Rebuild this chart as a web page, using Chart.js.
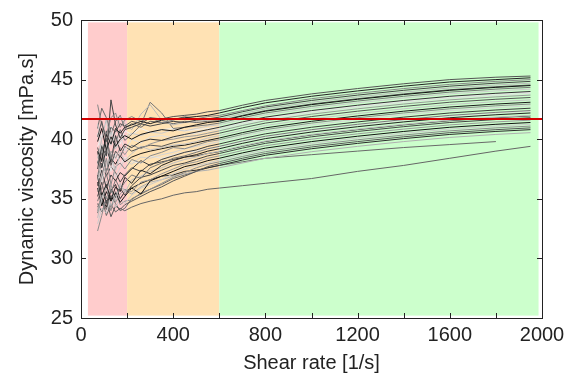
<!DOCTYPE html>
<html>
<head>
<meta charset="utf-8">
<script src="https://cdn.jsdelivr.net/npm/chart.js@4"></script>
<style>
  html, body { margin: 0; padding: 0; background: #fff; }
  #wrap { width: 576px; height: 378px; }
</style>
</head>
<body>
<div id="wrap"><canvas id="grafico" width="576" height="378"></canvas></div>
<script>
// shear rate grid shared by all runs [1/s]
const shearRate = [72, 90, 110, 130, 150, 170, 190, 220, 260, 300, 350, 400, 450, 500, 550, 600, 700, 800, 1000, 1200, 1400, 1600, 1800, 1950];

// measured viscosity curves [mPa.s]
const s1  = [40.2, 41.5, 39.8, 41.0, 40.6, 41.3, 41.1, 41.5, 41.3, 41.8, 41.7, 41.9, 42.0, 42.1, 42.3, 42.4, 42.85, 43.25, 43.8, 44.25, 44.65, 45.0, 45.2, 45.3];
const s2  = [39.0, 38.2, 40.4, 39.6, 40.9, 40.5, 41.0, 41.2, 41.5, 41.3, 41.6, 41.7, 41.8, 41.9, 42.0, 42.2, 42.65, 43.05, 43.6, 44.05, 44.45, 44.8, 45.0, 45.15];
const s3  = [42.9, 41.2, 40.3, 41.8, 42.2, 41.0, 41.6, 41.9, 41.5, 41.8, 41.4, 41.6, 41.9, 41.7, 41.9, 42.0, 42.4, 42.8, 43.4, 43.85, 44.25, 44.6, 44.85, 45.0];
const s4  = [37.5, 39.4, 38.6, 43.3, 41.2, 40.1, 40.8, 41.0, 41.3, 41.1, 41.3, 41.5, 41.4, 41.6, 41.7, 41.85, 42.3, 42.7, 43.25, 43.7, 44.1, 44.45, 44.7, 44.85];
const s5  = [38.4, 40.0, 41.7, 39.5, 40.7, 41.9, 41.3, 40.8, 42.1, 42.9, 41.6, 41.2, 41.4, 41.5, 41.6, 41.7, 42.15, 42.55, 43.1, 43.55, 43.95, 44.3, 44.55, 44.7];
const s6  = [39.8, 40.9, 39.1, 40.2, 39.4, 40.0, 40.3, 40.0, 40.4, 40.6, 40.8, 40.7, 41.0, 41.2, 41.4, 41.5, 41.95, 42.35, 42.9, 43.35, 43.75, 44.1, 44.35, 44.5];
const s7  = [36.8, 38.9, 40.1, 38.3, 39.7, 40.8, 39.9, 40.4, 41.2, 43.1, 42.2, 40.9, 41.0, 41.1, 41.2, 41.35, 41.8, 42.2, 42.75, 43.2, 43.6, 43.95, 44.2, 44.35];
const s8  = [41.3, 39.7, 38.5, 40.6, 39.2, 39.8, 40.2, 40.5, 40.3, 40.6, 40.5, 40.8, 40.7, 40.9, 41.1, 41.2, 41.65, 42.05, 42.6, 43.05, 43.45, 43.8, 44.05, 44.2];
const s9  = [38.9, 37.6, 39.2, 38.1, 40.3, 39.0, 39.6, 39.3, 39.8, 40.0, 39.9, 40.2, 40.4, 40.6, 40.8, 41.0, 41.45, 41.85, 42.4, 42.85, 43.25, 43.6, 43.85, 44.0];
const s10 = [40.5, 38.8, 39.9, 41.1, 39.3, 40.4, 39.0, 40.0, 39.7, 40.2, 40.3, 40.1, 40.4, 40.5, 40.7, 40.85, 41.3, 41.7, 42.25, 42.7, 43.1, 43.45, 43.7, 43.85];
const s11 = [37.9, 39.5, 37.2, 39.0, 38.4, 39.3, 38.7, 39.5, 39.2, 39.6, 39.9, 40.0, 40.2, 40.3, 40.5, 40.7, 41.15, 41.55, 42.1, 42.55, 42.95, 43.3, 43.55, 43.7];
const s12 = [39.3, 38.1, 40.7, 37.8, 39.0, 38.5, 39.4, 39.0, 39.3, 39.5, 39.4, 39.7, 39.9, 40.1, 40.3, 40.5, 40.95, 41.35, 41.9, 42.35, 42.75, 43.1, 43.35, 43.5];
const s13 = [36.5, 37.8, 39.0, 38.6, 37.4, 38.9, 38.2, 38.8, 39.4, 39.1, 39.3, 39.5, 39.6, 39.8, 40.1, 40.3, 40.75, 41.15, 41.7, 42.15, 42.55, 42.9, 43.15, 43.3];
const s14 = [38.0, 39.1, 37.3, 38.4, 37.9, 38.6, 38.1, 38.5, 38.8, 39.0, 39.2, 39.4, 39.5, 39.7, 39.9, 40.1, 40.55, 40.95, 41.5, 41.95, 42.35, 42.7, 42.95, 43.1];
const s15 = [35.6, 36.9, 38.4, 36.2, 37.7, 38.0, 37.5, 38.3, 38.0, 38.6, 38.9, 39.3, 39.2, 39.5, 39.8, 39.95, 40.4, 40.8, 41.35, 41.8, 42.2, 42.55, 42.8, 42.95];
const s16 = [37.2, 36.4, 37.9, 38.8, 36.8, 37.6, 38.3, 37.9, 38.5, 38.4, 38.7, 38.9, 39.2, 39.4, 39.6, 39.8, 40.25, 40.65, 41.2, 41.65, 42.05, 42.4, 42.65, 42.8];
const s17 = [36.1, 37.4, 35.9, 37.0, 36.5, 37.2, 36.9, 37.5, 38.2, 37.8, 38.3, 38.6, 38.9, 39.1, 39.4, 39.6, 40.05, 40.45, 41.0, 41.45, 41.85, 42.2, 42.45, 42.6];
const s18 = [34.8, 35.9, 37.1, 35.5, 36.6, 35.8, 36.4, 37.0, 36.7, 37.6, 38.0, 38.4, 38.6, 38.9, 39.2, 39.4, 39.85, 40.25, 40.8, 41.25, 41.65, 42.0, 42.25, 42.4];
const s19 = [37.0, 35.3, 36.2, 34.9, 36.0, 35.6, 36.8, 36.3, 37.4, 37.1, 37.8, 38.2, 38.5, 38.7, 39.0, 39.2, 39.65, 40.05, 40.6, 41.05, 41.45, 41.8, 42.05, 42.2];
const s20 = [33.4, 35.0, 36.5, 35.7, 34.9, 36.3, 35.5, 36.6, 36.9, 37.3, 37.6, 38.0, 38.3, 38.5, 38.8, 39.0, 39.45, 39.85, 40.4, 40.85, 41.25, 41.6, 41.85, 42.0];
const s21 = [35.2, 36.4, 34.6, 35.8, 35.1, 35.9, 35.3, 36.1, 36.8, 37.0, 37.4, 37.8, 38.0, 38.3, 38.6, 38.8, 39.25, 39.65, 40.2, 40.65, 41.05, 41.4, 41.65, 41.8];
const s22 = [34.0, 35.5, 35.0, 36.2, 34.7, 35.4, 35.8, 35.6, 36.4, 36.6, 37.1, 37.5, 37.9, 38.1, 38.4, 38.6, 39.05, 39.45, 40.0, 40.45, 40.85, 41.2, 41.45, 41.6];
const s23 = [35.9, 34.4, 35.6, 34.8, 35.5, 34.7, 35.2, 35.9, 35.4, 36.5, 36.9, 37.3, 37.7, 37.9, 38.2, 38.4, 38.85, 39.25, 39.8, 40.25, 40.65, 41.0, 41.25, 41.4];
const s24 = [32.9, 34.2, 33.8, 35.1, 34.3, 35.0, 34.6, 35.3, 35.9, 36.2, 36.6, 37.1, 37.5, 37.8, 38.0, 38.25, 38.7, 39.1, 39.65, 40.1, 40.5, 40.85, 41.1, 41.25];
const s25 = [32.3, 33.6, 35.2, 34.0, 35.6, 34.5, 34.8, 34.9, 35.5, 35.8, 36.3, 36.8, 37.2, 37.6, 37.9, 38.1, 38.55, 38.95, 39.5, 39.95, 40.35, 40.7, 40.95, 41.1];
const s26 = [34.6, 33.9, 34.9, 33.5, 34.4, 34.1, 34.5, 34.8, 35.2, 35.6, 36.0, 36.5, 36.9, 37.3, 37.7, 37.95, 38.4, 38.8, 39.35, 39.8, 40.2, 40.55, 40.8, 40.95];
const s27 = [36.4, 35.1, 34.3, 35.7, 36.2, 35.0, 35.6, 35.9, 36.3, 36.6, 36.9, 37.0, 37.3, 37.4, 37.6, 37.8, 38.25, 38.65, 39.2, 39.65, 40.05, 40.4, 40.65, 40.8];
const s28 = [33.9, 34.8, 36.0, 34.4, 35.3, 36.1, 35.7, 35.4, 36.0, 36.4, 36.6, 36.9, 37.1, 37.3, 37.4, 37.6, 38.0, 38.4, 38.95, 39.4, 39.8, 40.15, 40.4, 40.55];
const s29 = [33.8, 34.9, 34.1, 35.3, 34.6, 34.0, 34.2, 35.0, 35.4, 35.8, 36.2, 36.7, 37.0, 37.3, 37.6, 37.8, 38.1, 38.4, 38.7, 39.0, 39.3, 39.55, 39.8, null];
const s30 = [34.3, 35.1, 33.6, 34.5, 33.9, 34.2, 34.0, 34.3, 34.6, 34.8, 35.0, 35.3, 35.5, 35.6, 35.8, 35.9, 36.1, 36.3, 36.7, 37.3, 37.8, 38.4, 39.0, 39.4];
const s31 = [40.9, 42.6, 41.8, 40.4, 41.5, 42.0, 40.9, 41.3, 41.0, 41.5, 41.4, 41.3, 41.5, 41.4, 41.5, 41.55, 42.0, 42.4, 42.95, 43.4, 43.8, 44.15, 44.4, 44.55];
const s32 = [38.2, 36.7, 39.6, 37.3, 38.8, 37.9, 38.5, 38.1, 38.0, 38.6, 38.4, 38.7, 38.9, 39.0, 39.2, 39.35, 39.8, 40.2, 40.75, 41.2, 41.6, 41.95, 42.2, 42.35];
const s33 = [36.6, 38.0, 36.9, 37.7, 37.2, 36.4, 37.0, 37.6, 37.3, 37.9, 38.1, 38.3, 38.5, 38.6, 38.8, 38.95, 39.4, 39.8, 40.35, 40.8, 41.2, 41.55, 41.8, 41.95];
const s34 = [39.4, 40.3, 41.6, 39.9, 40.2, 39.6, 40.7, 40.4, 40.9, 40.6, 40.8, 40.9, 40.7, 40.8, 40.9, 41.0, 41.4, 41.8, 42.35, 42.8, 43.2, 43.55, 43.8, 43.95];

const curvas = [s1, s2, s3, s4, s5, s6, s7, s8, s9, s10, s11, s12, s13, s14, s15, s16, s17,
                s18, s19, s20, s21, s22, s23, s24, s25, s26, s27, s28, s29, s30, s31, s32, s33, s34];
const tons = ['#555', '#222', '#888', '#444', '#bbb', '#111', '#777', '#ccc', '#333', '#e0e0e0', '#999', '#555',
              '#c4c4c4', '#1a1a1a', '#8a8a8a', '#d4d4d4', '#3a3a3a', '#777', '#222', '#bfbfbf', '#444', '#999',
              '#111', '#ccc', '#8c8c8c', '#555', '#2a2a2a', '#b0b0b0', '#6a6a6a', '#666', '#666', '#e6e6e6', '#4a4a4a', '#f0f0f0'];

// mean viscosity (red reference line)
const meanX = [0, 2000];
const meanY = [41.7, 41.7];

// shaded shear-rate ranges
const faixaInicio = [30, 200, 600];
const faixaFim = [200, 600, 1985];
const faixaCor = ['#ffcccc', '#ffe2b4', '#ccffcc'];
const faixaYmin = 25.2, faixaYmax = 49.8;

const xTicks = [0, 400, 800, 1200, 1600, 2000];

const datasets = [{
    data: meanX.map((x, i) => ({ x: x, y: meanY[i] })),
    borderColor: '#d40000',
    borderWidth: 2
}];
curvas.forEach((c, k) => {
    datasets.push({
        data: shearRate.map((x, i) => ({ x: x, y: c[i] })),
        borderColor: tons[k],
        borderWidth: 1
    });
});

// fundo colorido
const faixas = {
    id: 'faixas',
    beforeDatasetsDraw(chart) {
        const { ctx, scales: { x, y } } = chart;
        ctx.save();
        faixaInicio.forEach((a, i) => {
            const x0 = x.getPixelForValue(a), x1 = x.getPixelForValue(faixaFim[i]);
            const y0 = y.getPixelForValue(faixaYmax), y1 = y.getPixelForValue(faixaYmin);
            ctx.fillStyle = faixaCor[i];
            ctx.fillRect(x0, y0, x1 - x0, y1 - y0);
        });
        ctx.restore();
    }
};

// moldura e ticks para dentro
const moldura = {
    id: 'moldura',
    afterDraw(chart) {
        const { ctx, chartArea: a, scales: { x, y } } = chart;
        ctx.save();
        ctx.strokeStyle = '#222';
        ctx.lineWidth = 1;
        ctx.strokeRect(Math.round(a.left) + 0.5, Math.round(a.top) + 0.5, Math.round(a.right - a.left), Math.round(a.bottom - a.top));
        ctx.beginPath();
        for (let v = 0; v <= 2000; v += 200) {
            const px = Math.round(x.getPixelForValue(v)) + 0.5;
            ctx.moveTo(px, a.bottom); ctx.lineTo(px, a.bottom - 5);
            ctx.moveTo(px, a.top); ctx.lineTo(px, a.top + 5);
        }
        for (let v = 25; v <= 50; v += 5) {
            const py = Math.round(y.getPixelForValue(v)) + 0.5;
            ctx.moveTo(a.left, py); ctx.lineTo(a.left + 5, py);
            ctx.moveTo(a.right, py); ctx.lineTo(a.right - 5, py);
        }
        ctx.stroke();
        ctx.restore();
    }
};

const fonte = { family: '"Liberation Sans", Arial, sans-serif', size: 20 };

new Chart(document.getElementById('grafico'), {
    type: 'line',
    data: { datasets: datasets },
    options: {
        responsive: false,
        animation: false,
        layout: { padding: { top: 15, right: 34, left: 0, bottom: 0 } },
        elements: { point: { radius: 0 }, line: { tension: 0 } },
        plugins: { legend: { display: false }, tooltip: { enabled: false } },
        scales: {
            x: {
                type: 'linear',
                min: 0, max: 2000,
                afterBuildTicks: s => { s.ticks = xTicks.map(v => ({ value: v })); },
                afterFit: s => { s.height = 60; },
                grid: { display: false, drawTicks: false },
                border: { display: false },
                ticks: { color: '#222', font: fonte, padding: 5, maxRotation: 0, callback: v => String(v) },
                title: { display: true, text: 'Shear rate [1/s]', color: '#222', font: fonte, padding: { top: 0, bottom: 3 } }
            },
            y: {
                min: 25, max: 50,
                afterFit: s => { s.width = 81; },
                grid: { display: false, drawTicks: false },
                border: { display: false },
                ticks: { stepSize: 5, color: '#222', font: fonte, padding: 8 },
                title: { display: true, text: 'Dynamic viscosity [mPa.s]', color: '#222', font: fonte, padding: { top: 15, bottom: 0 } }
            }
        }
    },
    plugins: [faixas, moldura]
});
</script>
</body>
</html>
